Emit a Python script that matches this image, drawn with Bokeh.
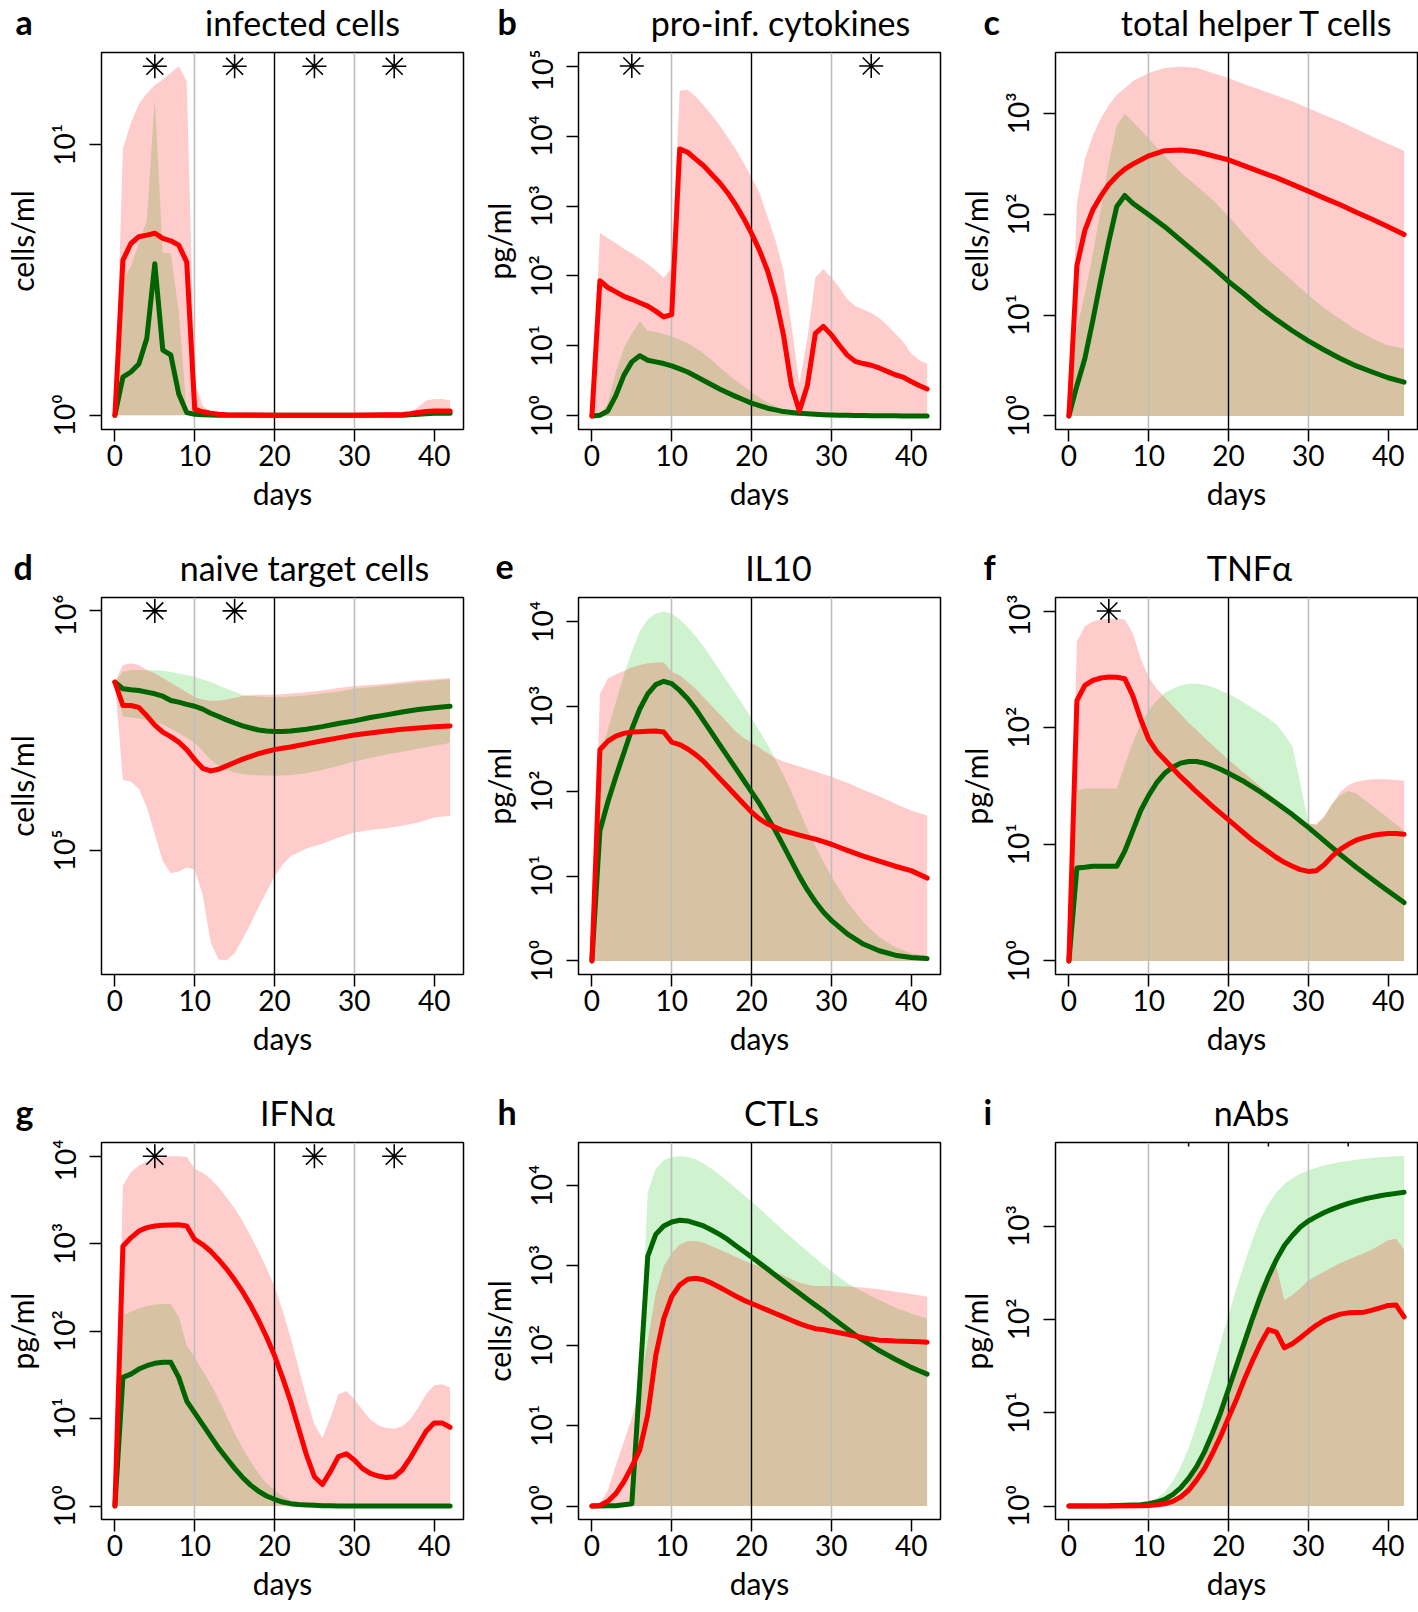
import numpy as np
from bokeh.plotting import figure
from bokeh.layouts import column, row
from bokeh.models import Range1d, FixedTicker, CustomJSTickFormatter
from bokeh.core.properties import value
from bokeh.embed import file_html
from bokeh.resources import INLINE

# ---------------------------------------------------------------- data
# All series values are log10 of the plotted quantity.
# Bands whose lower edge is not listed start at 10^0.
BAND_FLOOR = 0.0

# a: infected cells
a_days = [0, 1, 2, 3, 4, 5, 6, 7, 8, 9, 10, 11, 12, 13, 14, 20, 30, 36, 37, 38, 39, 40, 41, 42]
a_red = [0, 0.573, 0.635, 0.66, 0.666, 0.673, 0.654, 0.645, 0.629, 0.566, 0.023, 0.013, 0.008, 0.004, 0.002,
         0, 0, 0.003, 0.006, 0.01, 0.014, 0.016, 0.016, 0.016]
a_green = [0, 0.141, 0.16, 0.19, 0.285, 0.56, 0.241, 0.223, 0.079, 0.01, 0.004, 0.002, 0.001, 0, 0,
           0, 0, 0, 0.002, 0.004, 0.006, 0.008, 0.008, 0.008]
a_red_hi = [0, 0.985, 1.08, 1.15, 1.19, 1.22, 1.24, 1.266, 1.29, 1.235, 0.12, 0.035, 0.015, 0.005, 0.002,
            0, 0, 0.005, 0.01, 0.03, 0.055, 0.06, 0.06, 0.055]
a_green_hi = [0, 0.5, 0.55, 0.635, 0.72, 1.17, 0.6, 0.6, 0.385, 0.01, 0.004, 0.002, 0.001, 0, 0,
              0, 0, 0, 0.002, 0.004, 0.006, 0.008, 0.008, 0.008]
a_star_days = [5, 15, 25, 35]
a_star_level = 1.29

# b: pro-inflammatory cytokines
b_days = list(range(43))
b_red = [0, 1.932, 1.836, 1.773, 1.71, 1.667, 1.618, 1.57, 1.498, 1.415, 1.449,
         3.816, 3.768, 3.67, 3.575, 3.454, 3.333, 3.19, 3.02, 2.826, 2.609,
         2.367, 2.077, 1.69, 1.16, 0.435, 0.072, 0.435, 1.18, 1.28, 1.16,
         1.01, 0.87, 0.78, 0.749, 0.725, 0.686, 0.638, 0.589, 0.556, 0.493, 0.435, 0.386]
b_red_hi = [0, 2.618, 2.54, 2.47, 2.39, 2.32, 2.25, 2.17, 2.08, 1.97, 2.126,
            4.647, 4.66, 4.565, 4.44, 4.30, 4.155, 3.985, 3.816, 3.623, 3.406,
            3.19, 2.85, 2.51, 2.077, 1.30, 0.459, 1.11, 1.98, 2.10, 1.98,
            1.836, 1.667, 1.57, 1.52, 1.473, 1.40, 1.30, 1.18, 1.06, 0.894, 0.797, 0.749]
b_green = [0, 0.01, 0.072, 0.29, 0.58, 0.773, 0.86, 0.797, 0.773, 0.749, 0.715,
           0.672, 0.628, 0.568, 0.507, 0.447, 0.386, 0.333, 0.28, 0.232, 0.184,
           0.147, 0.111, 0.087, 0.063, 0.051, 0.039, 0.031, 0.024, 0.019, 0.015,
           0.012, 0.01, 0.008, 0.006, 0.005, 0.004, 0.003, 0.002, 0.001, 0, 0, 0]
b_green_hi = [0, 0.01, 0.19, 0.628, 0.966, 1.18, 1.35, 1.217, 1.2, 1.17, 1.135,
              1.09, 1.04, 0.97, 0.894, 0.8, 0.7, 0.6, 0.507, 0.42, 0.338,
              0.26, 0.193, 0.14, 0.097, 0.065, 0.039, 0.02, 0.01, 0, 0,
              0, 0, 0, 0, 0, 0, 0, 0, 0, 0, 0, 0]
b_star_days = [5, 35]
b_star_level = 5.0

# c: total helper T cells
c_days = [0, 1, 2, 3, 4, 5, 6, 7, 8, 10, 12, 14, 16, 18, 20, 22, 24, 26, 28, 30, 32, 34, 36, 38, 40, 42]
c_red = [0, 1.49, 1.84, 2.045, 2.18, 2.296, 2.38, 2.447, 2.497, 2.58, 2.63, 2.638, 2.62,
         2.58, 2.54, 2.48, 2.42, 2.363, 2.296, 2.23, 2.16, 2.095, 2.02, 1.95, 1.877, 1.80]
c_red_hi = [0, 2.11, 2.548, 2.78, 2.95, 3.08, 3.185, 3.25, 3.32, 3.40, 3.45, 3.463, 3.453,
            3.40, 3.35, 3.29, 3.235, 3.178, 3.12, 3.05, 2.985, 2.92, 2.845, 2.77, 2.70, 2.63]
c_green = [0, 0.30, 0.57, 0.95, 1.35, 1.73, 2.078, 2.186, 2.11, 1.995, 1.877, 1.743, 1.61,
           1.475, 1.334, 1.207, 1.073, 0.955, 0.845, 0.744, 0.654, 0.57, 0.496, 0.436, 0.379, 0.335]
c_green_hi = [0, 0.87, 1.21, 1.61, 2.045, 2.51, 2.88, 3.0, 2.92, 2.75, 2.58, 2.414, 2.28,
              2.145, 1.98, 1.80, 1.626, 1.48, 1.34, 1.2, 1.07, 0.96, 0.855, 0.77, 0.70, 0.67]

# d: naive target cells
d_days = [0, 1, 2, 3, 4, 5, 6, 7, 8, 9, 10, 11, 12, 13, 14, 15, 16, 17, 18, 19, 20, 21, 22,
          24, 26, 28, 30, 32, 34, 36, 38, 40, 42]
d_red = [5.703, 5.605, 5.605, 5.597, 5.562, 5.523, 5.494, 5.475, 5.452, 5.421, 5.379, 5.343, 5.332,
         5.339, 5.353, 5.367, 5.381, 5.393, 5.404, 5.413, 5.421, 5.427, 5.432,
         5.445, 5.458, 5.47, 5.482, 5.49, 5.499, 5.506, 5.511, 5.516, 5.52]
d_green = [5.703, 5.675, 5.671, 5.668, 5.661, 5.654, 5.644, 5.626, 5.619, 5.61, 5.602, 5.59, 5.573,
           5.559, 5.545, 5.532, 5.52, 5.511, 5.503, 5.499, 5.497, 5.497, 5.499,
           5.506, 5.517, 5.53, 5.541, 5.555, 5.566, 5.578, 5.588, 5.596, 5.602]
d_red_hi = [5.703, 5.774, 5.781, 5.774, 5.753, 5.74, 5.72, 5.70, 5.68, 5.66, 5.64, 5.63, 5.625,
            5.625, 5.63, 5.637, 5.645, 5.648, 5.65, 5.65, 5.65, 5.652, 5.655,
            5.66, 5.668, 5.678, 5.686, 5.691, 5.696, 5.703, 5.71, 5.715, 5.72]
d_red_lo = [5.703, 5.294, 5.287, 5.258, 5.18, 5.068, 4.955, 4.905, 4.912, 4.929, 4.92, 4.814, 4.616,
            4.545, 4.542, 4.571, 4.63, 4.694, 4.764, 4.828, 4.891, 4.94, 4.976,
            5.008, 5.028, 5.054, 5.075, 5.085, 5.093, 5.103, 5.117, 5.138, 5.145]
d_green_hi = [5.703, 5.746, 5.753, 5.753, 5.753, 5.752, 5.75, 5.745, 5.739, 5.732, 5.725, 5.714, 5.703,
              5.69, 5.675, 5.662, 5.65, 5.645, 5.643, 5.641, 5.64, 5.641, 5.643,
              5.647, 5.655, 5.664, 5.675, 5.682, 5.689, 5.696, 5.703, 5.709, 5.715]
d_green_lo = [5.703, 5.559, 5.555, 5.551, 5.545, 5.537, 5.527, 5.508, 5.49, 5.47, 5.449, 5.414, 5.379,
              5.353, 5.336, 5.325, 5.319, 5.315, 5.314, 5.313, 5.312, 5.313, 5.315,
              5.322, 5.336, 5.353, 5.371, 5.386, 5.4, 5.412, 5.424, 5.437, 5.449]
d_star_days = [5, 15]
d_star_level = 6.0

# e: IL10
e_days = [0, 1, 2, 3, 4, 5, 6, 7, 8, 9, 10, 11, 12, 13, 14, 15, 16, 17, 18, 19, 20,
          21, 22, 23, 24, 25, 26, 27, 28, 29, 30, 32, 34, 36, 38, 40, 42]
e_red = [0, 2.49, 2.592, 2.652, 2.684, 2.70, 2.704, 2.708, 2.712, 2.70, 2.58,
         2.552, 2.50, 2.433, 2.353, 2.253, 2.153, 2.054, 1.954, 1.854, 1.755,
         1.675, 1.615, 1.575, 1.535, 1.51, 1.484, 1.46, 1.436, 1.406, 1.376,
         1.304, 1.236, 1.176, 1.117, 1.065, 0.977]
e_green = [0, 1.535, 1.874, 2.173, 2.453, 2.732, 2.971, 3.15, 3.258, 3.298, 3.27,
           3.19, 3.091, 2.971, 2.832, 2.692, 2.552, 2.413, 2.273, 2.134, 1.994,
           1.854, 1.695, 1.535, 1.356, 1.176, 0.997, 0.837, 0.698, 0.578, 0.479,
           0.319, 0.199, 0.12, 0.068, 0.04, 0.028]
e_green_hi = [0, 2.373, 2.732, 3.05, 3.37, 3.65, 3.888, 4.028, 4.096, 4.12, 4.096,
              4.028, 3.936, 3.829, 3.709, 3.57, 3.43, 3.29, 3.15, 3.01, 2.86,
              2.712, 2.552, 2.373, 2.193, 1.994, 1.775, 1.555, 1.356, 1.176, 0.997,
              0.698, 0.459, 0.279, 0.16, 0.092, 0.06]
e_red_hi = [0, 3.15, 3.33, 3.38, 3.42, 3.46, 3.49, 3.51, 3.52, 3.52, 3.41,
            3.37, 3.29, 3.21, 3.11, 3.01, 2.91, 2.81, 2.71, 2.632, 2.572,
            2.513, 2.453, 2.393, 2.353, 2.323, 2.293, 2.263, 2.233, 2.203, 2.173,
            2.10, 2.02, 1.942, 1.854, 1.775, 1.715]

# f: TNF-alpha
f_days = list(range(43))
f_red = [0, 2.232, 2.362, 2.406, 2.426, 2.435, 2.432, 2.42, 2.275, 2.072, 1.899,
         1.797, 1.725, 1.652, 1.58, 1.516, 1.449, 1.388, 1.325, 1.267, 1.209,
         1.151, 1.093, 1.035, 0.986, 0.936, 0.887, 0.846, 0.812, 0.783, 0.768,
         0.774, 0.826, 0.899, 0.957, 1.0, 1.035, 1.058, 1.075, 1.087, 1.093, 1.093, 1.087]
f_green = [0, 0.797, 0.803, 0.812, 0.812, 0.812, 0.812, 0.942, 1.116, 1.29, 1.42,
           1.528, 1.609, 1.661, 1.696, 1.71, 1.71, 1.696, 1.672, 1.643, 1.609,
           1.573, 1.536, 1.493, 1.449, 1.402, 1.354, 1.305, 1.255, 1.2, 1.145,
           1.087, 1.029, 0.971, 0.913, 0.858, 0.803, 0.752, 0.701, 0.65, 0.60, 0.55, 0.501]
f_green_hi = [0, 1.464, 1.478, 1.478, 1.478, 1.478, 1.478, 1.68, 1.87, 2.03, 2.145,
              2.232, 2.299, 2.333, 2.362, 2.377, 2.377, 2.368, 2.348, 2.319, 2.29,
              2.252, 2.212, 2.168, 2.125, 2.078, 2.029, 1.94, 1.84, 1.52, 1.188,
              1.159, 1.232, 1.348, 1.42, 1.458, 1.435, 1.385, 1.333, 1.28, 1.226, 1.17, 1.116]
f_red_hi = [0, 2.739, 2.87, 2.913, 2.928, 2.936, 2.933, 2.928, 2.812, 2.594, 2.435,
            2.333, 2.261, 2.188, 2.116, 2.043, 1.98, 1.913, 1.849, 1.788, 1.725,
            1.667, 1.609, 1.551, 1.493, 1.435, 1.383, 1.325, 1.275, 1.226, 1.174,
            1.174, 1.246, 1.348, 1.449, 1.507, 1.536, 1.55, 1.557, 1.557, 1.557, 1.552, 1.545]
f_star_days = [5]
f_star_level = 3.0

# g: IFN-alpha
g_days = list(range(43))
g_red = [0, 2.972, 3.068, 3.145, 3.184, 3.203, 3.211, 3.215, 3.218, 3.203, 3.049,
         2.991, 2.914, 2.818, 2.71, 2.587, 2.452, 2.298, 2.125, 1.933, 1.721,
         1.471, 1.201, 0.893, 0.585, 0.335, 0.246, 0.393, 0.566, 0.597, 0.527,
         0.431, 0.373, 0.343, 0.327, 0.335, 0.412, 0.547, 0.701, 0.855, 0.951, 0.951, 0.901]
g_red_hi = [0, 3.665, 3.819, 3.896, 3.942, 3.973, 3.992, 4.0, 4.0, 3.992, 3.858,
            3.811, 3.742, 3.646, 3.53, 3.403, 3.261, 3.088, 2.914, 2.722, 2.51,
            2.241, 1.933, 1.586, 1.24, 0.932, 0.778, 1.009, 1.278, 1.317, 1.22,
            1.105, 0.989, 0.924, 0.893, 0.885, 0.912, 0.989, 1.124, 1.278, 1.382, 1.394, 1.355]
g_green = [0, 1.471, 1.509, 1.567, 1.605, 1.632, 1.644, 1.644, 1.471, 1.201, 1.066,
           0.932, 0.797, 0.662, 0.547, 0.431, 0.327, 0.239, 0.169, 0.115, 0.077,
           0.046, 0.027, 0.018, 0.012, 0.008, 0.004, 0.002, 0, 0, 0,
           0, 0, 0, 0, 0, 0, 0, 0, 0, 0, 0, 0]
g_green_hi = [0, 2.183, 2.221, 2.26, 2.287, 2.306, 2.31, 2.31, 2.164, 1.837, 1.702,
              1.548, 1.394, 1.22, 1.028, 0.835, 0.662, 0.508, 0.373, 0.258, 0.181,
              0.115, 0.065, 0.04, 0.019, 0.01, 0.004, 0, 0, 0, 0,
              0, 0, 0, 0, 0, 0, 0, 0, 0, 0, 0, 0]
g_star_days = [5, 25, 35]
g_star_level = 4.0

# h: CTLs
h_days = list(range(43))
h_red = [0, 0.008, 0.059, 0.155, 0.303, 0.492, 0.702, 1.143, 1.878, 2.34, 2.613,
         2.76, 2.832, 2.844, 2.824, 2.782, 2.731, 2.676, 2.622, 2.571, 2.529,
         2.487, 2.445, 2.403, 2.361, 2.319, 2.277, 2.244, 2.214, 2.202, 2.181,
         2.164, 2.143, 2.122, 2.101, 2.084, 2.071, 2.065, 2.059, 2.057, 2.055, 2.05, 2.046]
h_green = [0, 0, 0.004, 0.004, 0.017, 0.029, 1.56, 3.118, 3.391, 3.496, 3.546,
           3.567, 3.559, 3.529, 3.496, 3.445, 3.391, 3.328, 3.252, 3.181, 3.109,
           3.034, 2.958, 2.882, 2.807, 2.731, 2.655, 2.58, 2.508, 2.437, 2.361,
           2.286, 2.21, 2.134, 2.067, 2.004, 1.941, 1.887, 1.832, 1.782, 1.731, 1.689, 1.647]
h_green_hi = [0, 0, 0.005, 0.005, 0.02, 0.035, 1.7, 3.916, 4.21, 4.315, 4.357,
              4.366, 4.357, 4.328, 4.273, 4.21, 4.134, 4.055, 3.971, 3.887, 3.798,
              3.71, 3.622, 3.53, 3.441, 3.353, 3.265, 3.18, 3.097, 3.013, 2.929,
              2.855, 2.782, 2.729, 2.676, 2.623, 2.571, 2.525, 2.479, 2.441, 2.403, 2.372, 2.34]
h_red_hi = [0, 0.03, 0.197, 0.513, 0.807, 1.10, 1.479, 2.067, 2.655, 2.992, 3.16,
            3.265, 3.307, 3.307, 3.286, 3.244, 3.202, 3.16, 3.109, 3.067, 3.025,
            2.992, 2.958, 2.92, 2.878, 2.832, 2.79, 2.761, 2.748, 2.748, 2.748,
            2.743, 2.739, 2.733, 2.727, 2.716, 2.706, 2.691, 2.676, 2.662, 2.647, 2.63, 2.613]

# i: nAbs
i_days = [0, 5, 9, 10, 11, 12, 13, 14, 15, 16, 17, 18, 19, 20, 21, 22, 23, 24, 25, 26, 27, 28, 29, 30,
          31, 32, 33, 34, 35, 36, 37, 38, 39, 40, 41, 42]
i_red = [0, 0, 0.003, 0.007, 0.014, 0.025, 0.05, 0.097, 0.169, 0.278, 0.404, 0.566, 0.746, 0.945,
         1.143, 1.36, 1.558, 1.738, 1.89, 1.864, 1.695, 1.738, 1.803, 1.872,
         1.937, 1.99, 2.027, 2.056, 2.07, 2.074, 2.077, 2.099, 2.124, 2.149, 2.153, 2.027]
i_green = [0, 0.002, 0.015, 0.025, 0.043, 0.072, 0.123, 0.195, 0.296, 0.422, 0.584, 0.783, 0.999, 1.251,
           1.504, 1.756, 2.009, 2.243, 2.459, 2.64, 2.791, 2.899, 2.989, 3.054,
           3.101, 3.145, 3.181, 3.213, 3.242, 3.267, 3.289, 3.307, 3.325, 3.339, 3.35, 3.361]
i_green_hi = [0, 0.005, 0.025, 0.043, 0.087, 0.151, 0.26, 0.422, 0.62, 0.873, 1.161, 1.45, 1.756, 2.045,
              2.333, 2.604, 2.857, 3.072, 3.235, 3.361, 3.451, 3.512, 3.559, 3.595,
              3.625, 3.65, 3.668, 3.685, 3.698, 3.711, 3.72, 3.729, 3.736, 3.743, 3.747, 3.75]
i_red_hi = [0, 0, 0.005, 0.01, 0.02, 0.03, 0.06, 0.115, 0.242, 0.404, 0.602, 0.837, 1.089, 1.341,
            1.594, 1.846, 2.099, 2.351, 2.495, 2.568, 2.207, 2.261, 2.333, 2.416,
            2.465, 2.513, 2.558, 2.604, 2.64, 2.676, 2.712, 2.748, 2.8, 2.849, 2.863, 2.748]
i_mark_days = [15, 25, 35]

x_ticks = [0, 10, 20, 30, 40]
gray_days = [10, 30]
black_days = [20]

row_letters = [["a", "b", "c"], ["d", "e", "f"], ["g", "h", "i"]]
row_titles = [["infected cells", "pro-inf. cytokines", "total helper T cells"],
              ["naive target cells", "IL10", "TNF\u03b1"],
              ["IFN\u03b1", "CTLs", "nAbs"]]

# ---------------------------------------------------------------- panels
panels = [
    dict(ylabel="cells/ml", days=a_days, red=a_red, green=a_green,
         red_hi=a_red_hi, green_hi=a_green_hi, yr=(-0.0525, 1.341), yt=[0, 1],
         stars=a_star_days, star_level=a_star_level),
    dict(ylabel="pg/ml", days=b_days, red=b_red, green=b_green,
         red_hi=b_red_hi, green_hi=b_green_hi, yr=(-0.193, 5.193), yt=[0, 1, 2, 3, 4, 5],
         stars=b_star_days, star_level=b_star_level),
    dict(ylabel="cells/ml", days=c_days, red=c_red, green=c_green,
         red_hi=c_red_hi, green_hi=c_green_hi, yr=(-0.134, 3.604), yt=[0, 1, 2, 3]),
    dict(ylabel="cells/ml", days=d_days, red=d_red, green=d_green,
         red_hi=d_red_hi, green_hi=d_green_hi, red_lo=d_red_lo, green_lo=d_green_lo,
         yr=(4.482, 6.056), yt=[5, 6], stars=d_star_days, star_level=d_star_level),
    dict(ylabel="pg/ml", days=e_days, red=e_red, green=e_green,
         red_hi=e_red_hi, green_hi=e_green_hi, yr=(-0.16, 4.286), yt=[0, 1, 2, 3, 4]),
    dict(ylabel="pg/ml", days=f_days, red=f_red, green=f_green,
         red_hi=f_red_hi, green_hi=f_green_hi, yr=(-0.116, 3.116), yt=[0, 1, 2, 3],
         stars=f_star_days, star_level=f_star_level),
    dict(ylabel="pg/ml", days=g_days, red=g_red, green=g_green,
         red_hi=g_red_hi, green_hi=g_green_hi, yr=(-0.154, 4.158), yt=[0, 1, 2, 3, 4],
         stars=g_star_days, star_level=g_star_level),
    dict(ylabel="cells/ml", days=h_days, red=h_red, green=h_green,
         red_hi=h_red_hi, green_hi=h_green_hi, yr=(-0.168, 4.538), yt=[0, 1, 2, 3, 4]),
    dict(ylabel="pg/ml", days=i_days, red=i_red, green=i_green,
         red_hi=i_red_hi, green_hi=i_green_hi, yr=(-0.144, 3.895), yt=[0, 1, 2, 3],
         marks=i_mark_days),
]

# ---------------------------------------------------------------- layout constants (pixels)
FONT = "Lato"
RED = "#FF0000"
DARKGREEN = "#006400"
PAGE_W = 1418
COL_W = [477, 477, 464]
BL, FW, FH = 98, 365, 377
HEAD_H, BT = 49, 3
BB = [116, 116, 91]
TITLE_CX = [[302, 780, 1257], [304, 778, 1249], [297, 781, 1251]]
LETTER_X = [[15, 497, 983], [13, 495, 983], [15, 497, 983]]
TITLE_Y, LETTER_Y = 27, 28

SUP = CustomJSTickFormatter(code="""
const s = {"0":"\\u2070","1":"\\u00b9","2":"\\u00b2","3":"\\u00b3","4":"\\u2074",
           "5":"\\u2075","6":"\\u2076","7":"\\u2077","8":"\\u2078","9":"\\u2079","-":"\\u207b"};
const e = Math.round(Math.log10(tick));
return "10" + String(e).split("").map(c => s[c]).join("");
""")


def pw(v):
    return 10 ** np.asarray(v, dtype=float)


def make_header(r):
    h = figure(width=PAGE_W, height=HEAD_H, x_range=Range1d(0, PAGE_W), y_range=Range1d(0, HEAD_H),
               title=None, output_backend="svg", toolbar_location=None,
               x_axis_location=None, y_axis_location=None,
               min_border=0, min_border_left=0, min_border_right=0, min_border_top=0, min_border_bottom=0)
    h.outline_line_color = None
    h.background_fill_color = "white"
    h.border_fill_color = "white"
    h.xgrid.visible = False
    h.ygrid.visible = False
    h.text(x=TITLE_CX[r], y=[TITLE_Y] * 3, text=row_titles[r], text_align="center",
           text_baseline="alphabetic", text_font=value(FONT), text_font_size="34px", text_color="black")
    h.text(x=LETTER_X[r], y=[LETTER_Y] * 3, text=row_letters[r], text_align="left",
           text_baseline="alphabetic", text_font=value(FONT), text_font_size="34px",
           text_font_style="bold", text_color="black")
    return h


def make_panel(spec, r, col):
    br = COL_W[col] - BL - FW
    lo, hi = spec["yr"]
    p = figure(width=COL_W[col], height=BT + FH + BB[r], y_axis_type="log", title=None,
               x_range=Range1d(-1.68, 43.68), y_range=Range1d(10 ** lo, 10 ** hi),
               output_backend="svg", toolbar_location=None,
               min_border_left=BL, min_border_right=br, min_border_top=BT, min_border_bottom=BB[r])
    p.background_fill_color = "white"
    p.border_fill_color = "white"
    p.outline_line_color = "black"
    p.outline_line_width = 1.5
    p.xgrid.visible = False
    p.ygrid.visible = False

    x = spec["days"]
    g_lo = pw(spec["green_lo"]) if "green_lo" in spec else 10 ** BAND_FLOOR
    r_lo = pw(spec["red_lo"]) if "red_lo" in spec else 10 ** BAND_FLOOR
    p.varea(x=x, y1=g_lo, y2=pw(spec["green_hi"]), fill_color="#1EC81E", fill_alpha=0.22)
    p.varea(x=x, y1=r_lo, y2=pw(spec["red_hi"]), fill_color="#FF0000", fill_alpha=0.2)

    p.vspan(x=gray_days, line_color="#BEBEBE", line_width=1.6)
    p.vspan(x=black_days, line_color="black", line_width=1.4)

    p.line(x, pw(spec["green"]), line_color=DARKGREEN, line_width=5, line_join="round", line_cap="round")
    p.line(x, pw(spec["red"]), line_color=RED, line_width=5, line_join="round", line_cap="round")

    if "stars" in spec:
        p.scatter(x=spec["stars"], y=[10 ** spec["star_level"]] * len(spec["stars"]),
                  marker="asterisk", size=24, line_color="black", line_width=1.6)
    if "marks" in spec:
        p.scatter(x=spec["marks"], y=[10 ** hi] * len(spec["marks"]), marker="dash",
                  angle=np.pi / 2, size=8, line_color="black", line_width=1.5)

    for ax in (p.xaxis[0], p.yaxis[0]):
        ax.axis_line_color = None
        ax.major_tick_in = 0
        ax.major_tick_out = 12
        ax.major_tick_line_width = 1.5
        ax.major_tick_line_color = "black"
        ax.minor_tick_line_color = None
        ax.major_label_text_font = FONT
        ax.major_label_text_font_size = "28px"
        ax.major_label_text_color = "black"
        ax.axis_label_text_font = FONT
        ax.axis_label_text_font_size = "30px"
        ax.axis_label_text_font_style = "normal"
        ax.axis_label_text_color = "black"

    xa = p.xaxis[0]
    xa.ticker = FixedTicker(ticks=x_ticks, minor_ticks=[])
    xa.major_label_standoff = 3
    xa.axis_label = "days"
    xa.axis_label_standoff = 6

    ya = p.yaxis[0]
    ya.ticker = FixedTicker(ticks=[10 ** k for k in spec["yt"]], minor_ticks=[])
    ya.formatter = SUP
    ya.major_label_orientation = "vertical"
    ya.major_label_standoff = 8
    ya.axis_label = spec["ylabel"]
    ya.axis_label_standoff = 5
    return p


rows = []
for r in range(3):
    rows.append(make_header(r))
    rows.append(row([make_panel(panels[3 * r + c], r, c) for c in range(3)]))

page = column(rows)

open("out.html", "w").write(file_html(page, INLINE, title="model comparison"))
